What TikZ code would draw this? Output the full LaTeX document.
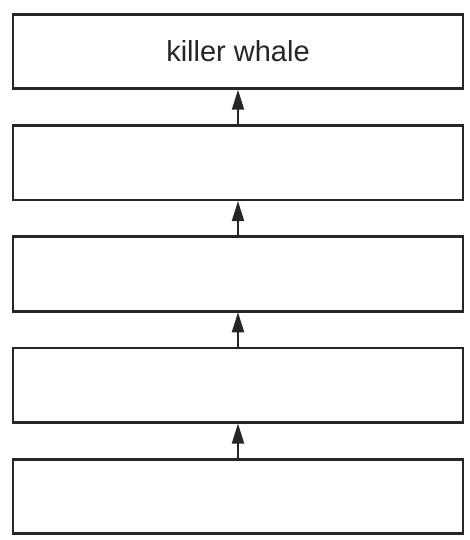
\documentclass[tikz,border=0pt]{standalone}
\usepackage{fontspec}
\setmainfont{Liberation Sans}
\usetikzlibrary{arrows.meta}
\begin{document}
\begin{tikzpicture}[x=1pt,y=1pt,
  chainbox/.style={draw=black!85,line width=2.6pt,minimum width=450pt,minimum height=74.5pt,inner sep=0pt,outer sep=0pt,font=\fontsize{29}{34}\selectfont,text=black!85},
  uparrow/.style={draw=black!85,line width=2pt,-{Triangle[length=20pt,width=12pt]},shorten >=1pt}]
\useasboundingbox (0,0) rectangle (470,-540);
\node[chainbox] (b1) at (238,-51.5) {killer whale};
\node[chainbox] (b2) at (238,-162.75) {};
\node[chainbox] (b3) at (238,-274) {};
\node[chainbox] (b4) at (238,-385.25) {};
\node[chainbox] (b5) at (238,-496.5) {};
\draw[uparrow] (b2.north) -- (b1.south);
\draw[uparrow] (b3.north) -- (b2.south);
\draw[uparrow] (b4.north) -- (b3.south);
\draw[uparrow] (b5.north) -- (b4.south);
\end{tikzpicture}
\end{document}
